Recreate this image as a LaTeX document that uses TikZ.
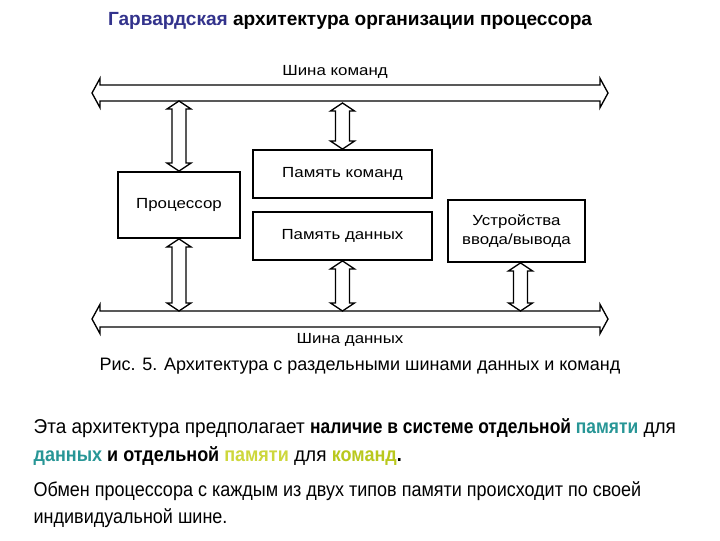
\documentclass[tikz,border=0pt]{standalone}
\usepackage{fontspec}
\setmainfont{Liberation Sans}
\newfontfamily\narrowfont[FakeStretch=0.90]{Liberation Sans}
\newfontfamily\plainfont[FakeStretch=0.95]{Liberation Sans}
\newfontfamily\boldfont[FakeStretch=0.87]{Liberation Sans}
\newfontfamily\widebold[FakeStretch=0.90]{Liberation Sans}
\newfontfamily\diagfont[FakeStretch=1.15]{Liberation Sans}
\usetikzlibrary{calc,positioning}
\definecolor{titlenavy}{RGB}{51,51,140}
\definecolor{memteal}{RGB}{40,150,150}
\definecolor{memgreen}{RGB}{185,200,30}
\definecolor{memlight}{RGB}{205,215,60}

\begin{document}
\begin{tikzpicture}[x=0.75pt,y=-0.75pt,line width=1pt]
            \tikzstyle{box}=[draw,line width=1.4pt,inner sep=0pt,align=center,
                font=\diagfont\fontsize{11}{14}\selectfont]
            \tikzstyle{buslabel}=[font=\diagfont\fontsize{11}{14}\selectfont]
            \tikzstyle{textline}=[anchor=base west,inner sep=0pt,
                font=\narrowfont\fontsize{15}{18}\selectfont]
            \tikzstyle{hbus}=[to path={let \p1=(\tikztostart), \p2=(\tikztotarget) in
                (\x1,\y1) -- (\x1+6pt,\y1+11pt) -- (\x1+6pt,\y1+6pt) -- (\x2-6pt,\y2+6pt)
                -- (\x2-6pt,\y2+11pt) -- (\x2,\y2) -- (\x2-6pt,\y2-11pt) -- (\x2-6pt,\y2-6pt)
                -- (\x1+6pt,\y1-6pt) -- (\x1+6pt,\y1-11pt) -- cycle}]
            \tikzstyle{vbus}=[to path={let \p1=(\tikztostart), \p2=(\tikztotarget) in
                (\x1,\y1) -- (\x1-9pt,\y1-6pt) -- (\x1-5.25pt,\y1-6pt) -- (\x2-5.25pt,\y2+6pt)
                -- (\x2-9pt,\y2+6pt) -- (\x2,\y2) -- (\x2+9pt,\y2+6pt) -- (\x2+5.25pt,\y2+6pt)
                -- (\x1+5.25pt,\y1-6pt) -- (\x1+9pt,\y1-6pt) -- cycle}]

            \useasboundingbox (0,0) rectangle (720,540);

            \node (title) at (350,21) {\fontsize{14.3}{16}\selectfont\bfseries
                \textcolor{titlenavy}{Гарвардская} архитектура организации процессора};

            % buses
            \coordinate (cbL) at (92,93);
            \coordinate (cbR) at (608,93);
            \coordinate (cb)  at (0,101);
            \coordinate (dbL) at (92,319);
            \coordinate (dbR) at (608,319);
            \coordinate (db)  at (0,311);
            \node[buslabel] (cblabel) at (335,72)  {Шина команд};
            \node[buslabel] (dblabel) at (350,340) {Шина данных};

            % units
            \node[box, minimum width=91.5pt, minimum height=49.5pt] (proc) at (179,205) {Процессор};
            \node[box, minimum width=134pt, minimum height=36pt]    (cmem) at (342.5,174) {Память команд};
            \node[box, minimum width=134pt, minimum height=36pt]    (dmem) at (342.5,236) {Память данных};
            \node[box, minimum width=103pt, minimum height=46.5pt]  (io)   at (516.5,231) {Устройства\\ввода/вывода};

            \draw (cbL) to[hbus] (cbR);
            \draw (dbL) to[hbus] (dbR);

            \draw (proc.north |- cb) to[vbus] (proc.north);
            \draw ([yshift=-1.5pt]cmem.north |- cb) to[vbus] (cmem.north);
            \draw (proc.south) to[vbus] (proc.south |- db);
            \draw (dmem.south) to[vbus] (dmem.south |- db);
            \draw ([xshift=3pt]io.south) to[vbus] ([xshift=3pt]io.south |- db);

            \node (caption) at (360,366) {\fontsize{13.5}{16}\selectfont
                Рис. 5. Архитектура с раздельными шинами данных и команд};

            % text below the figure
            \node[textline] (line1) at (33,433) {\plainfont Эта архитектура предполагает
                {\boldfont\bfseries наличие в системе отдельной \textcolor{memteal}{памяти}} для};
            \node[textline] (line2) at (33,461) {\plainfont{\widebold\bfseries\textcolor{memteal}{данных}
                и отдельной \textcolor{memlight}{памяти}} для
                {\widebold\bfseries\textcolor{memgreen}{команд}.}};
            \node[textline] (line3) at (33,496)
                {Обмен процессора с каждым из двух типов памяти происходит по своей};
            \node[textline] (line4) at (33,523) {индивидуальной шине.};
\end{tikzpicture}
\end{document}
